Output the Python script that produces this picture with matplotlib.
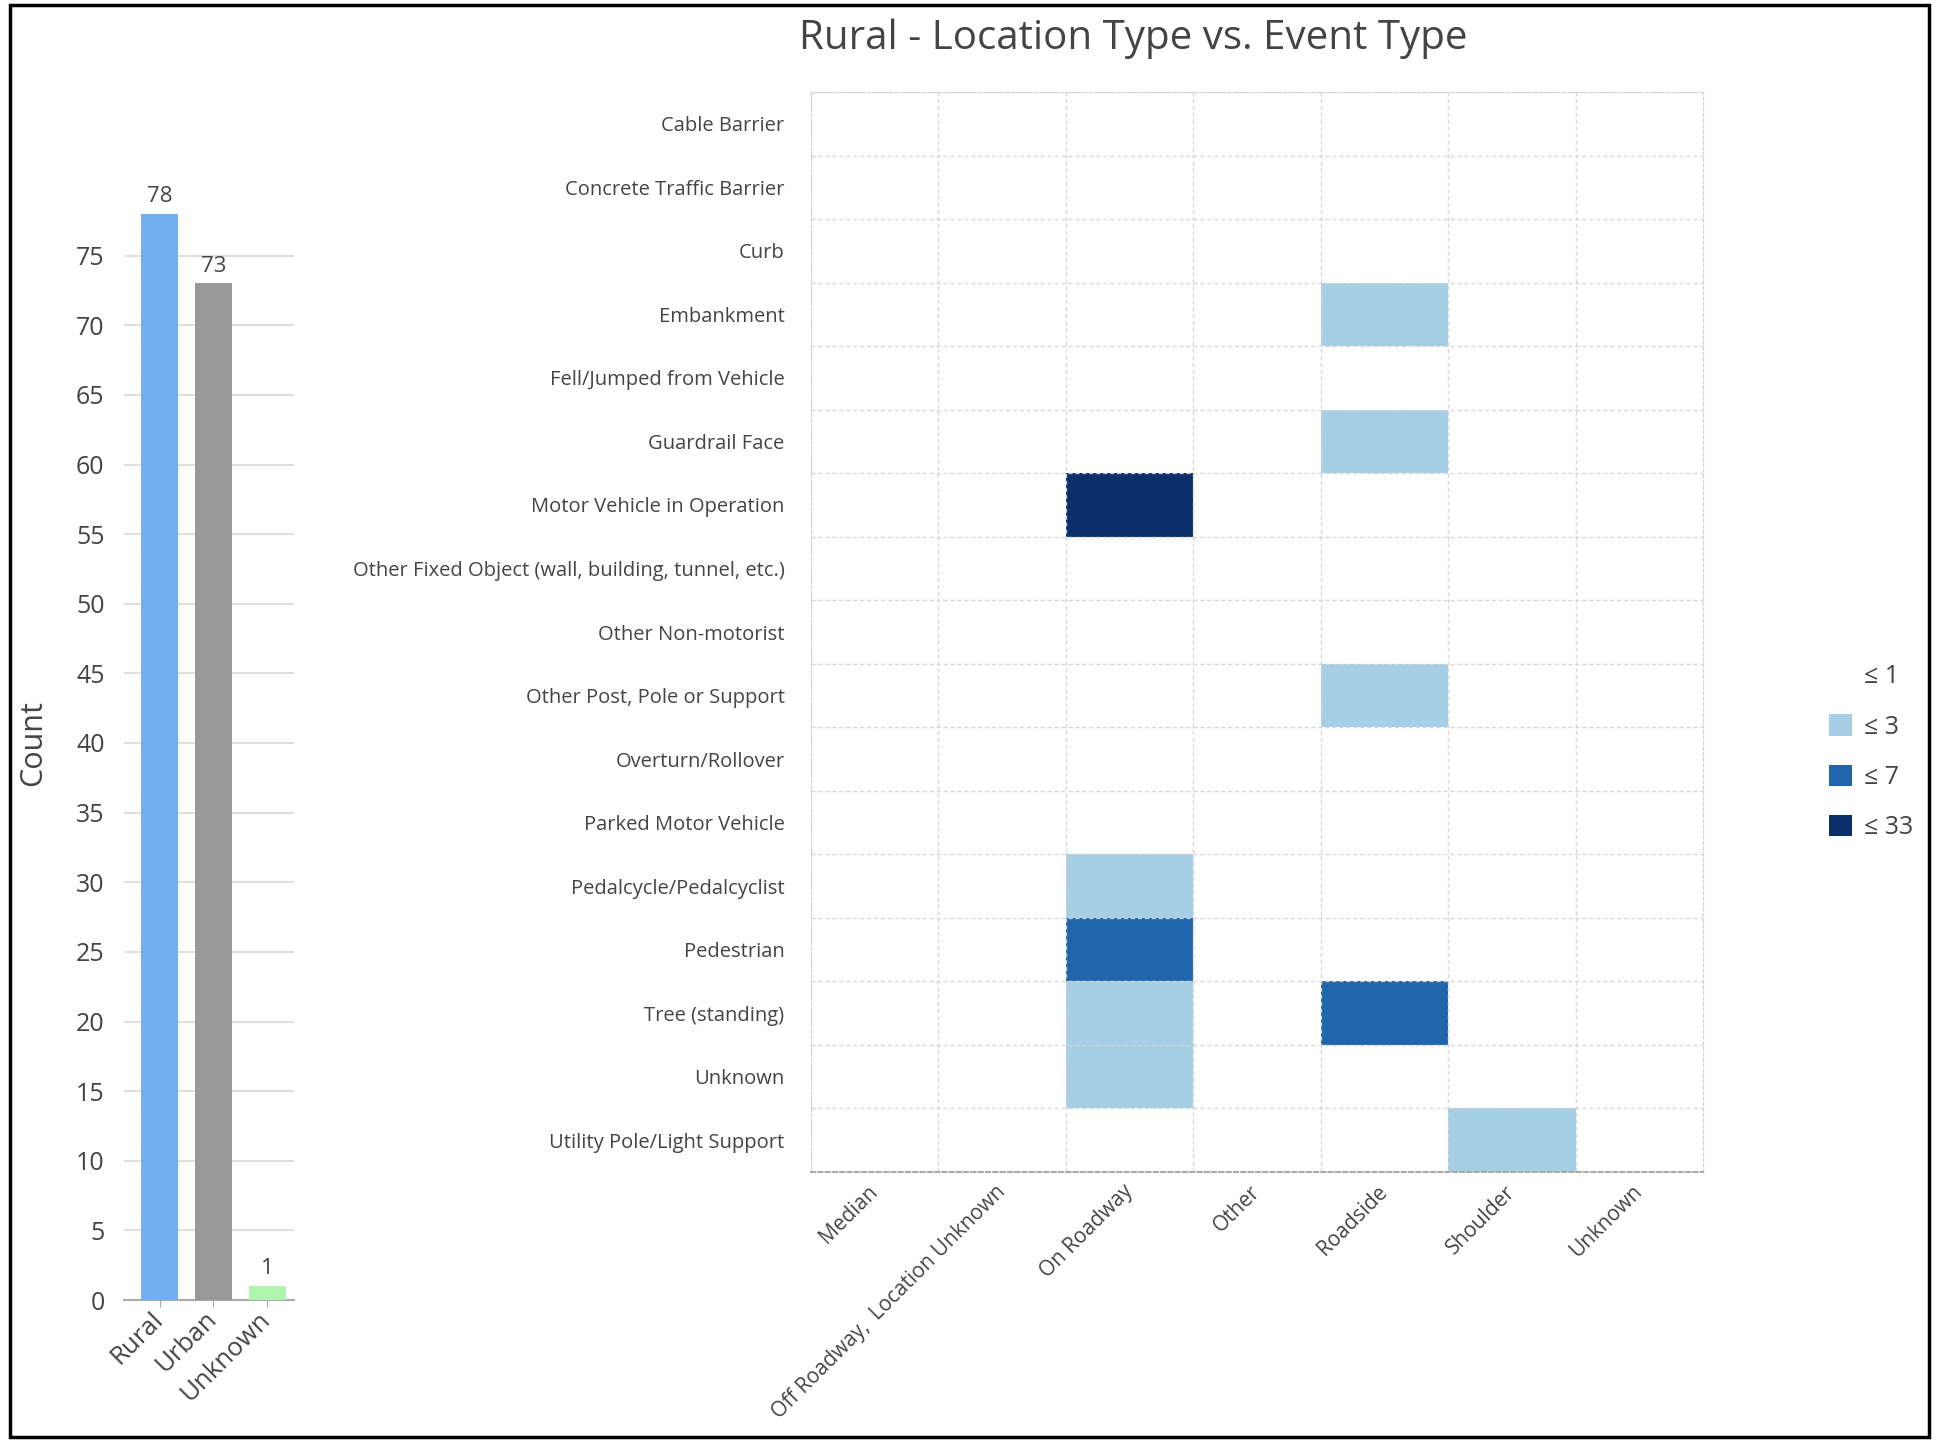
import numpy as np
import matplotlib
matplotlib.use("Agg")
import matplotlib.pyplot as plt
from matplotlib.colors import ListedColormap, BoundaryNorm
from matplotlib.patches import Rectangle, Patch

plt.rcParams['font.family'] = ['Open Sans', 'DejaVu Sans']

# ---- data ----
title = "Rural - Location Type vs. Event Type"
bar_categories = ["Rural", "Urban", "Unknown"]
bar_values = [78, 73, 1]
bar_colors = ["#72aff0", "#999999", "#aef5ae"]

event_types = [
    "Cable Barrier", "Concrete Traffic Barrier", "Curb", "Embankment",
    "Fell/Jumped from Vehicle", "Guardrail Face", "Motor Vehicle in Operation",
    "Other Fixed Object (wall, building, tunnel, etc.)", "Other Non-motorist",
    "Other Post, Pole or Support", "Overturn/Rollover", "Parked Motor Vehicle",
    "Pedalcycle/Pedalcyclist", "Pedestrian", "Tree (standing)", "Unknown",
    "Utility Pole/Light Support",
]
location_types = ["Median", "Off Roadway,  Location Unknown", "On Roadway",
                  "Other", "Roadside", "Shoulder", "Unknown"]
# counts [event x location]
counts = [
    [1, 0, 0, 0, 0, 0, 0],
    [1, 0, 0, 0, 0, 0, 0],
    [0, 0, 0, 0, 1, 0, 0],
    [0, 0, 0, 0, 3, 0, 0],
    [0, 0, 1, 0, 0, 0, 0],
    [0, 0, 0, 0, 2, 0, 0],
    [0, 0, 33, 0, 0, 0, 0],
    [0, 0, 0, 0, 1, 0, 0],
    [0, 0, 1, 0, 0, 0, 0],
    [0, 0, 0, 0, 3, 0, 0],
    [0, 0, 1, 0, 1, 1, 0],
    [0, 0, 1, 0, 0, 1, 0],
    [0, 0, 3, 0, 0, 0, 0],
    [0, 0, 7, 0, 0, 0, 0],
    [0, 0, 2, 0, 6, 0, 0],
    [0, 1, 3, 0, 1, 0, 0],
    [0, 0, 0, 0, 0, 3, 0],
]
bin_edges = [-0.5, 1.5, 3.5, 7.5, 33.5]
bin_labels = ["\u2264 1", "\u2264 3", "\u2264 7", "\u2264 33"]
bin_colors = [(1, 1, 1, 0), "#a6cee4", "#1f66ad", "#0a2f6b"]

text_color = "#444444"

fig = plt.figure(figsize=(19.39, 14.42), dpi=100)
W, H = 1939, 1442

def ax_rect(l, t, r, b):
    return [l / W, 1 - b / H, (r - l) / W, (b - t) / H]

# ---- bar chart ----
axb = fig.add_axes(ax_rect(124, 186, 294, 1300))
x = np.arange(len(bar_categories))
bars = axb.bar(x, bar_values, width=0.69, color=bar_colors, zorder=3,
               edgecolor=bar_colors, linewidth=0)
for xi, v in zip(x, bar_values):
    axb.text(xi, v + 0.5, str(v), ha="center", va="bottom", fontsize=16, color=text_color)
axb.set_xlim(-0.66, 2.5)
axb.set_ylim(0, 80)
axb.set_yticks(np.arange(0, 80, 5))
axb.grid(axis="y", color="#d9d9d9", linewidth=1.2, zorder=0)
axb.set_axisbelow(True)
for s in ["top", "right", "left"]:
    axb.spines[s].set_visible(False)
axb.spines["bottom"].set_color("#aaaaaa")
axb.spines["bottom"].set_linewidth(1.5)
axb.tick_params(axis="y", length=0, pad=14, labelsize=18, labelcolor=text_color)
axb.tick_params(axis="x", length=5, color="#aaaaaa", labelsize=18.5, labelcolor=text_color, pad=6)
axb.set_xticks(x)
axb.set_xticklabels(bar_categories, rotation=45, ha="right", va="center", rotation_mode="anchor")
axb.set_ylabel("Count", fontsize=22, color=text_color, labelpad=20)

# ---- heatmap ----
axh = fig.add_axes(ax_rect(811, 92, 1703, 1172))
data = np.array(counts, dtype=float)
cmap = ListedColormap(bin_colors)
norm = BoundaryNorm(bin_edges, cmap.N)
axh.pcolormesh(np.arange(len(location_types) + 1), np.arange(len(event_types) + 1),
               data, cmap=cmap, norm=norm, zorder=1)
axh.set_xlim(0, len(location_types))
axh.set_ylim(len(event_types), 0)
axh.set_xticks(np.arange(len(location_types)) + 0.5)
axh.set_yticks(np.arange(len(event_types)) + 0.5)
axh.set_xticks(np.arange(len(location_types) + 1), minor=True)
axh.set_yticks(np.arange(len(event_types) + 1), minor=True)
axh.grid(which="minor", color="#d4d4d4", linestyle=(0, (3, 2)), linewidth=1.0, zorder=2, alpha=0.9)
axh.grid(which="major", visible=False)
axh.set_yticklabels(event_types, fontsize=14.5, color=text_color)
axh.set_xticklabels(location_types, fontsize=15, color=text_color,
                    rotation=45, ha="right", va="center", rotation_mode="anchor")
axh.tick_params(which="both", length=0)
axh.tick_params(axis="y", pad=19)
axh.tick_params(axis="x", pad=12)
for s in ["top", "right", "left"]:
    axh.spines[s].set_color("#d4d4d4")
    axh.spines[s].set_linestyle((0, (3, 2)))
axh.spines["bottom"].set_color("#aaaaaa")
axh.spines["bottom"].set_linestyle((0, (2, 1.5)))
axh.spines["bottom"].set_linewidth(1.5)

fig.text(1133 / W, 1 - 39 / H, title, ha="center", va="center", fontsize=29, color=text_color)

# ---- legend ----
handles = [Patch(facecolor=c, edgecolor="none") for c in bin_colors]
leg = fig.legend(handles, bin_labels, loc="center left",
                 bbox_to_anchor=(1806 / W, 1 - 752 / H), frameon=False,
                 fontsize=18, labelcolor=text_color, handlelength=0.95, handleheight=0.95,
                 handletextpad=0.45, labelspacing=1.0)

# ---- figure border ----
fig.patches.append(Rectangle((10 / W, 5 / H), 1919 / W, 1432 / H, transform=fig.transFigure,
                             fill=False, edgecolor="black", linewidth=2.5))

fig.savefig("out.png", dpi=100, facecolor="white")
